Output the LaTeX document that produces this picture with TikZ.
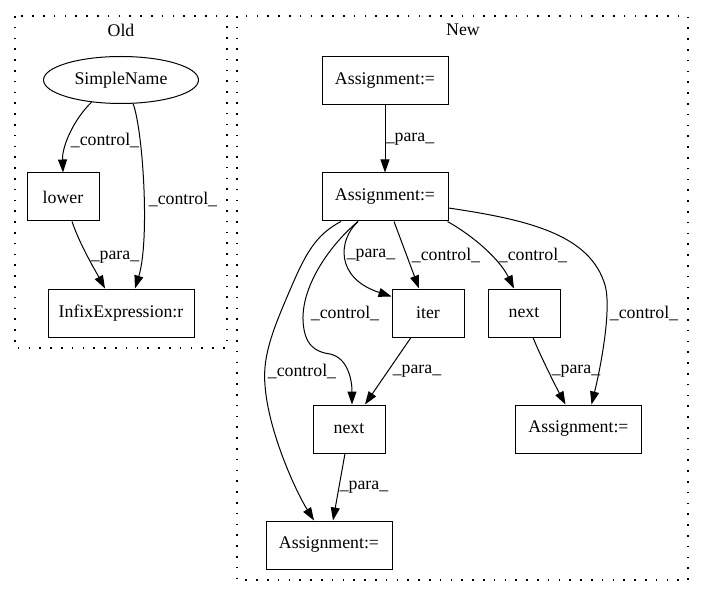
\documentclass[tikz,border=0pt]{standalone}
\usepackage{fontspec}
\setmainfont{Liberation Serif}
\usetikzlibrary{arrows.meta,shapes.geometric}
\begin{document}
\begin{tikzpicture}[x=1pt,y=-1pt,
  txt/.style={font=\fontsize{17.8}{20}\selectfont},
  box/.style={draw, line width=1pt, minimum width=#1, minimum height=48pt, inner sep=0pt, txt},
  box/.default=72pt,
  ell/.style={draw, ellipse, line width=1pt, minimum width=155pt, minimum height=47pt, inner sep=0pt, txt},
  edge/.style={draw, line width=1pt, -{Triangle[length=13pt,width=9pt]}},
  lab/.style={txt, inner sep=0pt},
  cluster/.style={draw, line width=1.3pt, dash pattern=on 1.6pt off 9.2pt}]
\useasboundingbox (0,0) rectangle (704,596);
% clusters
\draw[cluster] (15,16) rectangle (227,348);
\draw[cluster] (237,16) rectangle (688,580);
\node[lab] (told) at (121,30) {Old};
\node[lab] (tnew) at (463,30) {New};
% Old nodes
\node[ell] (sn) at (121,80) {SimpleName};
\node[box] (lower) at (63,197) {lower};
\node[box=146pt] (infix) at (121,313) {InfixExpression:r};
% New nodes
\node[box=126pt] (a1) at (385,81) {Assignment:=};
\node[box=126pt] (a2) at (385,197) {Assignment:=};
\node[box] (iter) at (428,313) {iter};
\node[box] (nextr) at (524,313) {next};
\node[box] (nextm) at (349,429) {next};
\node[box=126pt] (asr) at (578.5,429) {Assignment:=};
\node[box=126pt] (ab) at (329,545) {Assignment:=};
% Old edges
\draw[edge] (sn.217) .. controls (75,118) and (62,145) .. (lower.north);
\draw[edge] (sn.297) .. controls (143,130) and (150,240) .. ([xshift=14pt]infix.north);
\draw[edge] ([xshift=9pt]lower.south) .. controls (80,245) and (95,270) .. ([xshift=-16pt]infix.north);
\node[lab] (l1) at (105,140) {\_control\_};
\node[lab] (l2) at (183,199) {\_control\_};
\node[lab] (l3) at (115,257) {\_para\_};
% New edges
\draw[edge] (a1) -- (a2);
\draw[edge] ([xshift=-27pt]a2.south) .. controls (338,240) and (335,278) .. ([yshift=-8pt]iter.north west);
\draw[edge] ([xshift=9pt]a2.south) -- ([xshift=-9pt]iter.north);
\draw[edge] ([xshift=-1pt]a2.south east) .. controls (475,237) and (500,260) .. ([xshift=-10pt]nextr.north);
\draw[edge] ([yshift=-11pt]a2.east) .. controls (530,220) and (590,235) .. (605,285) .. controls (612,310) and (600,370) .. ([xshift=13pt]asr.north);
\draw[edge] ([xshift=-44pt]a2.south) .. controls (315,235) and (305,255) .. (290,290) .. controls (275,325) and (262,355) .. (265,385) .. controls (268,430) and (295,490) .. ([xshift=-15pt]ab.north);
\draw[edge] ([xshift=-27pt]a2.south) .. controls (330,245) and (302,285) .. (303,320) .. controls (304,345) and (315,352) .. (330,354) .. controls (348,358) and (352,380) .. ([xshift=3pt]nextm.north);
\draw[edge] ([xshift=-17pt]iter.south) -- ([xshift=16pt]nextm.north);
\draw[edge] ([xshift=9pt]nextr.south) .. controls (540,355) and (555,385) .. ([xshift=-13pt]asr.north);
\draw[edge] ([xshift=-4pt]nextm.south) -- ([xshift=4pt]ab.north);
\node[lab] (l4) at (410,139) {\_para\_};
\node[lab] (l5) at (371,255) {\_para\_};
\node[lab] (l6) at (446,255) {\_control\_};
\node[lab] (l7) at (533,255) {\_control\_};
\node[lab] (l8) at (644,313) {\_control\_};
\node[lab] (l9) at (302,371) {\_control\_};
\node[lab] (l10) at (345,313) {\_control\_};
\node[lab] (l11) at (417,371) {\_para\_};
\node[lab] (l12) at (576,371) {\_para\_};
\node[lab] (l13) at (364,487) {\_para\_};
\end{tikzpicture}
\end{document}
